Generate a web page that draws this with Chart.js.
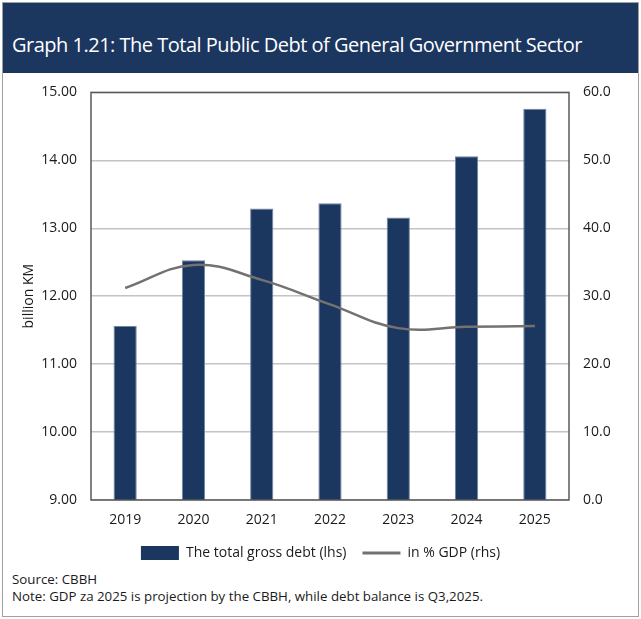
<!DOCTYPE html>
<html>
<head>
<meta charset="utf-8">
<script src="https://cdn.jsdelivr.net/npm/chart.js@4"></script>
<style>
  body { margin: 0; background: #fff; font-family: "Open Sans", sans-serif; }
  #frame { position: absolute; left: 2px; top: 2px; width: 635px; height: 613px; border: 1px solid #a0a0a0; }
  #title { position: absolute; left: 0; top: 0; width: 635px; height: 70px; background: #1b365f; color: #fff;
           font-size: 20px; line-height: 26px; padding: 29px 0 0 9px; box-sizing: border-box;
           letter-spacing: -0.5px; white-space: nowrap; }
  #wrap { position: absolute; left: 0; top: 70px; width: 641px; height: 500px; }
  #notes { position: absolute; left: 12px; top: 571px; font-size: 13.3px; line-height: 17px; color: #1a1a1a; }
</style>
</head>
<body>
<div id="frame"><div id="title">Graph 1.21: The Total Public Debt of General Government Sector</div></div>
<div id="wrap"><canvas id="debtChart"></canvas></div>
<div id="notes">Source: CBBH<br>Note: GDP za 2025 is projection by the CBBH, while debt balance is Q3,2025.</div>
<script>
// Public debt of the general government sector
var years = ['2019', '2020', '2021', '2022', '2023', '2024', '2025'];
var grossDebt = [11.56, 12.53, 13.29, 13.37, 13.16, 14.06, 14.76];   // billion KM (lhs)
var debtToGdp = [31.2, 34.6, 32.4, 28.8, 25.3, 25.5, 25.6];          // % of GDP (rhs)

var navy = '#1b365f';
var grey = '#767171';
var tickFont = { family: 'Open Sans', size: 14 };

// box around the plot area
var frameBox = {
    id: 'frameBox',
    afterDraw: function(chart) {
        var a = chart.chartArea, c = chart.ctx;
        c.save();
        c.strokeStyle = '#5a5a5a';
        c.lineWidth = 1.5;
        c.strokeRect(a.left, a.top, a.right - a.left, a.bottom - a.top);
        c.restore();
    }
};

var ctx = document.getElementById('debtChart').getContext('2d');
new Chart(ctx, {
    data: {
        labels: years,
        datasets: [{
            type: 'line',
            label: 'in % GDP (rhs)',
            data: debtToGdp,
            yAxisID: 'y1',
            borderColor: grey,
            backgroundColor: grey,
            borderWidth: 2.5,
            tension: 0.4,
            pointRadius: 0,
            order: 0
        }, {
            type: 'bar',
            label: 'The total gross debt (lhs)',
            data: grossDebt,
            yAxisID: 'y',
            backgroundColor: navy,
            borderColor: '#6f84a6',
            borderWidth: 1,
            barPercentage: 0.34,
            categoryPercentage: 1,
            order: 1
        }]
    },
    options: {
        responsive: true,
        maintainAspectRatio: false,
        animation: false,
        layout: { padding: { top: 13, left: 0, right: 0, bottom: 0 } },
        scales: {
            x: {
                grid: { display: false, drawTicks: false },
                border: { display: false },
                ticks: { color: '#1a1a1a', font: tickFont, padding: 12 },
                afterFit: function(s) { s.height = 30; }
            },
            y: {
                position: 'left',
                min: 9, max: 15,
                grid: { color: '#c4c4c4', lineWidth: 1.5, drawTicks: false },
                border: { display: false },
                ticks: {
                    stepSize: 1, padding: 14, color: '#1a1a1a', font: tickFont,
                    callback: function(v) { return v.toFixed(2); }
                },
                title: { display: true, text: 'billion KM', color: '#1a1a1a', font: tickFont, padding: { top: 21 } },
                afterFit: function(s) { s.width = 91; }
            },
            y1: {
                position: 'right',
                min: 0, max: 60,
                grid: { display: false, drawTicks: false },
                border: { display: false },
                ticks: {
                    stepSize: 10, padding: 14, color: '#1a1a1a', font: tickFont,
                    callback: function(v) { return v.toFixed(1); }
                },
                afterFit: function(s) { s.width = 72; }
            }
        },
        plugins: {
            legend: {
                position: 'bottom',
                reverse: true,
                labels: {
                    usePointStyle: true,
                    pointStyleWidth: 38,
                    boxHeight: 14,
                    padding: 16,
                    color: '#1a1a1a',
                    font: { family: 'Open Sans', size: 14 },
                    generateLabels: function(chart) {
                        var items = Chart.defaults.plugins.legend.labels.generateLabels(chart);
                        items.forEach(function(it) {
                            var ds = chart.data.datasets[it.datasetIndex];
                            if (ds.type === 'line') {
                                it.pointStyle = 'line';
                                it.lineWidth = 3;
                                it.strokeStyle = grey;
                            } else {
                                it.pointStyle = 'rect';
                                it.lineWidth = 0;
                                it.fillStyle = navy;
                            }
                        });
                        return items;
                    }
                }
            },
            tooltip: { enabled: false }
        }
    },
    plugins: [frameBox]
});
</script>
</body>
</html>
